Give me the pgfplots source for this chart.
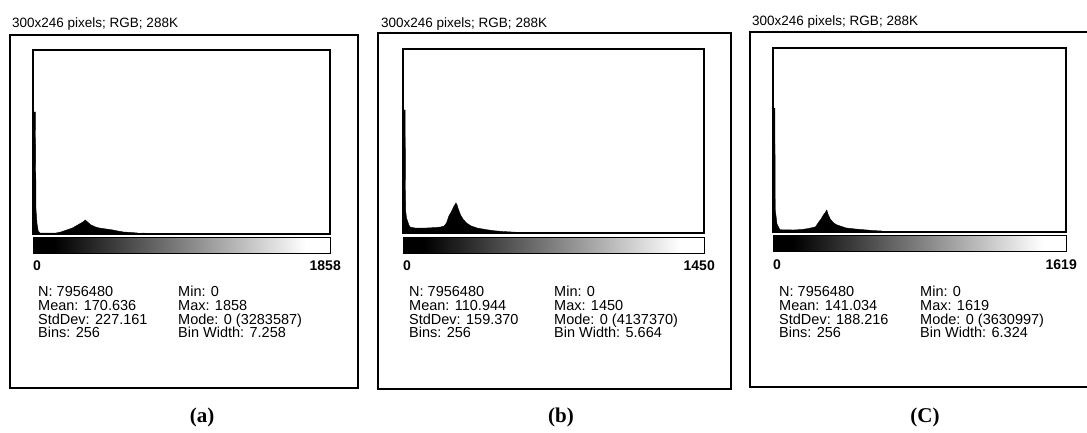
\documentclass[border=0pt]{standalone}
\usepackage{pgfplots}
\pgfplotsset{compat=1.18}
\usepackage{fontspec}
\setmainfont{Liberation Sans}
\newfontfamily\tnr{Liberation Serif}

% ImageJ style lookup-table bar (tikz maps the path onto 25bp..75bp)
\pgfdeclarehorizontalshading{lut}{100bp}{color(0bp)=(black); color(28.5bp)=(black);
  color(50bp)=(black!50); color(71bp)=(white); color(100bp)=(white)}

\pgfplotsset{hist/.style={
  scale only axis, anchor=south west, xmin=0, xmax=256, ymin=0, ymax=184,
  ticks=none, axis line style={line width=1.1pt}}}

\newcommand\stats[9]{%
  % #1 #2 left/right column x, then N, Mean, StdDev, Min, Max, Mode, BinWidth
  \node[st] at (#1,136) {N: #3};
  \node[st] at (#1,122) {Mean: #4};
  \node[st] at (#1,108) {StdDev: #5};
  \node[st] at (#1,95) {Bins: 256};
  \node[st] at (#2,136) {Min: #6};
  \node[st] at (#2,122) {Max: #7};
  \node[st] at (#2,108) {Mode: #8};
  \node[st] at (#2,95) {Bin Width: #9};
}

\begin{document}
\begin{tikzpicture}[x=1pt, y=1pt, inner sep=0pt]
\useasboundingbox (0,0) rectangle (1087,432);
\tikzset{ttl/.style={anchor=base west, font=\fontsize{13.5}{14}\selectfont},
         st/.style={anchor=base west, font=\fontsize{14.5}{15}\selectfont},
         lim/.style={font=\bfseries\fontsize{14}{15}\selectfont},
         capt/.style={font=\tnr\bfseries\fontsize{21}{22}\selectfont}}

% ---------- (a) ----------
\draw[line width=1.5pt] (10,44) rectangle (358,397);
\node[ttl] at (12,404) {300x246 pixels; RGB; 288K};
\begin{axis}[hist, at={(33pt,198pt)}, width=297pt, height=184pt]
\addplot[fill=black, draw=black, line width=0.4pt] coordinates {
(0,0) (0,122) (2,122) (2.6,24) (3.5,10) (4.5,3) (6,1) (20,1) (24,2) (29,4)
(34,6) (37,8) (40,10) (43,12) (45,14) (46,13) (47,12) (50,9) (54,7) (57,6)
(63,5) (69,4) (73,3) (78,2) (85,1.5) (90,1) (92,0) (94,1) (96,1) (97,0) (256,0)
} \closedcycle;
\end{axis}
\shade[shading=lut] (33,179) rectangle (330,195);
\draw[line width=1pt] (33,179) rectangle (330,195);
\node[lim, anchor=base west] at (33,162) {0};
\node[lim, anchor=base east] at (341,162) {1858};
\stats{38}{178}{7956480}{170.636}{227.161}{0}{1858}{0 (3283587)}{7.258}
\node[capt] at (202,15) {(a)};

% ---------- (b) ----------
\draw[line width=1.5pt] (378,43) rectangle (731,399);
\node[ttl] at (381,404) {300x246 pixels; RGB; 288K};
\begin{axis}[hist, at={(403pt,199pt)}, width=301pt, height=184pt]
\addplot[fill=black, draw=black, line width=0.4pt] coordinates {
(0,0) (0,123) (1.8,123) (2.2,23) (3,15) (5,8) (6,6) (10,5) (20,5) (28,5.5)
(32,6) (35,7) (37,10) (39,17) (41,21) (43,26) (45,30) (46,28) (47,24) (49,18)
(51,14) (54,10) (58,7) (63,5) (70,3.5) (77,2.3) (85,1.5) (97,0.7) (98,0) (256,0)
} \closedcycle;
\end{axis}
\shade[shading=lut] (403,179) rectangle (704,195);
\draw[line width=1pt] (403,179) rectangle (704,195);
\node[lim, anchor=base west] at (403,162) {0};
\node[lim, anchor=base east] at (715,162) {1450};
\stats{409}{554}{7956480}{110.944}{159.370}{0}{1450}{0 (4137370)}{5.664}
\node[capt] at (561,15) {(b)};

% ---------- (C) ----------
\draw[line width=1.5pt] (750,45) rectangle (1095,400);
\node[ttl] at (752,406) {300x246 pixels; RGB; 288K};
\begin{axis}[hist, at={(773pt,200pt)}, width=293pt, height=184pt]
\addplot[fill=black, draw=black, line width=0.4pt] coordinates {
(0,0) (0,124) (1.6,124) (2,22) (3.5,8) (6,2.3) (18,2) (25,2.5) (30,3.3) (37,5)
(40,10) (42,13) (44,17) (46,20) (47,22) (48,18) (50,13) (53,9) (56,7) (64,4)
(72,3) (79,2.3) (87,1.5) (95,1) (96,0) (256,0)
} \closedcycle;
\end{axis}
\shade[shading=lut] (773,181) rectangle (1066,197);
\draw[line width=1pt] (773,181) rectangle (1066,197);
\node[lim, anchor=base west] at (773,163) {0};
\node[lim, anchor=base east] at (1077,163) {1619};
\stats{779}{920}{7956480}{141.034}{188.216}{0}{1619}{0 (3630997)}{6.324}
\node[capt] at (925,15) {(C)};
\end{tikzpicture}
\end{document}
